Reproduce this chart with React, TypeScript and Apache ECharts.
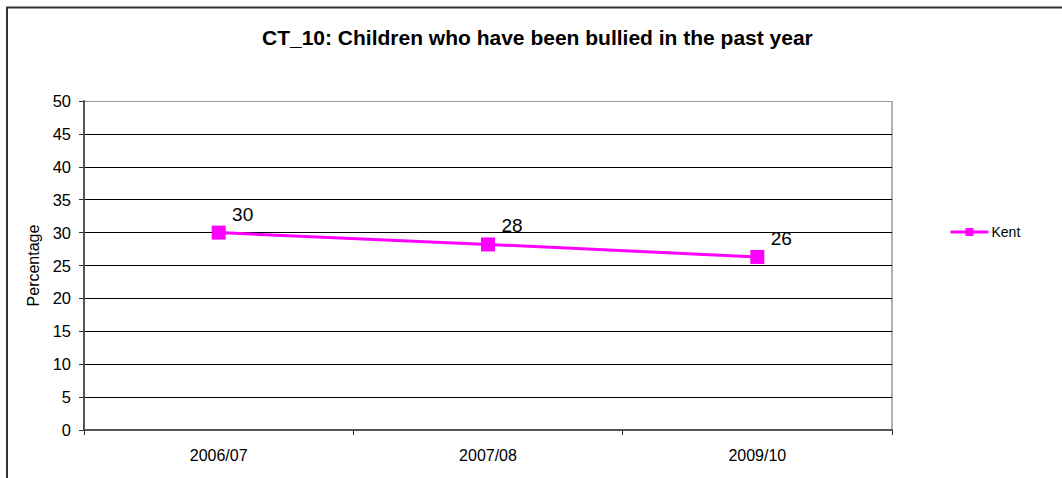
import React, { useEffect, useRef } from "react";
import * as echarts from "echarts";

const categories = ["2006/07", "2007/08", "2009/10"];
const kentValues = [30, 28.2, 26.3];
const seriesName = "Kent";
const titleText = "CT_10: Children who have been bullied in the past year";
const yAxisName = "Percentage";

export default function App() {
  const ref = useRef<HTMLDivElement>(null);
  useEffect(() => {
    document.body.style.margin = "0";
    const chart = echarts.init(ref.current!, null, { renderer: "svg" });
    const font = "Liberation Sans, Arial, sans-serif";
    const splitColors = ["#000", "#000", "#000", "#000", "#000", "#000", "#000", "#000", "#000", "#000", "#999"];
    chart.setOption({
      animation: false,
      backgroundColor: "#fff",
      textStyle: { fontFamily: font },
      title: {
        text: titleText,
        left: 262,
        top: 27,
        padding: 0,
        textStyle: { fontSize: 21, fontWeight: "bold", color: "#000", fontFamily: font },
      },
      legend: {
        data: [seriesName],
        left: 949,
        top: 225,
        padding: 0,
        itemWidth: 38,
        itemHeight: 10,
        itemGap: 2,
        lineStyle: { width: 3, color: "#FF00FF" },
        textStyle: { fontSize: 14, color: "#000", fontFamily: font, padding: [0, 0, 0, -2] },
      },
      grid: { left: 84, top: 101, right: 170, bottom: 48, containLabel: false },
      xAxis: {
        type: "category",
        data: categories,
        boundaryGap: true,
        axisLine: { show: true, lineStyle: { color: "#555", width: 2 } },
        axisTick: { show: true, alignWithLabel: false, length: 5, lineStyle: { color: "#333", width: 1 } },
        axisLabel: { fontSize: 16, color: "#000", margin: 17, fontFamily: font },
        splitLine: { show: false },
      },
      yAxis: {
        type: "value",
        min: 0,
        max: 50,
        interval: 5,
        name: yAxisName,
        nameLocation: "middle",
        nameGap: 42,
        nameTextStyle: { fontSize: 16, color: "#000", fontFamily: font },
        axisLine: { show: true, lineStyle: { color: "#555", width: 2 } },
        axisTick: { show: true, length: 5, lineStyle: { color: "#333", width: 1 } },
        axisLabel: { fontSize: 16.5, color: "#000", margin: 13, fontFamily: font },
        splitLine: { show: true, lineStyle: { color: splitColors, width: 1 } },
      },
      graphic: [
        {
          type: "rect",
          shape: { x: 7, y: 7.5, width: 1070, height: 500 },
          style: { fill: "none", stroke: "#333", lineWidth: 2 },
          silent: true,
          z: -1,
        },
        {
          type: "line",
          shape: { x1: 892, y1: 101, x2: 892, y2: 430 },
          style: { stroke: "#999", lineWidth: 1.5 },
          silent: true,
        },
      ],
      series: [
        {
          name: seriesName,
          type: "line",
          data: kentValues,
          symbol: "rect",
          symbolSize: 14,
          itemStyle: { color: "#FF00FF" },
          lineStyle: { color: "#FF00FF", width: 3 },
          label: {
            show: true,
            position: "top",
            offset: [24, 3],
            fontSize: 19,
            color: "#000",
            fontFamily: font,
            formatter: (p: any) => String(Math.round(p.value)),
          },
        },
      ],
    });
    return () => chart.dispose();
  }, []);
  return <div ref={ref} style={{ width: 1062, height: 478 }} />;
}
